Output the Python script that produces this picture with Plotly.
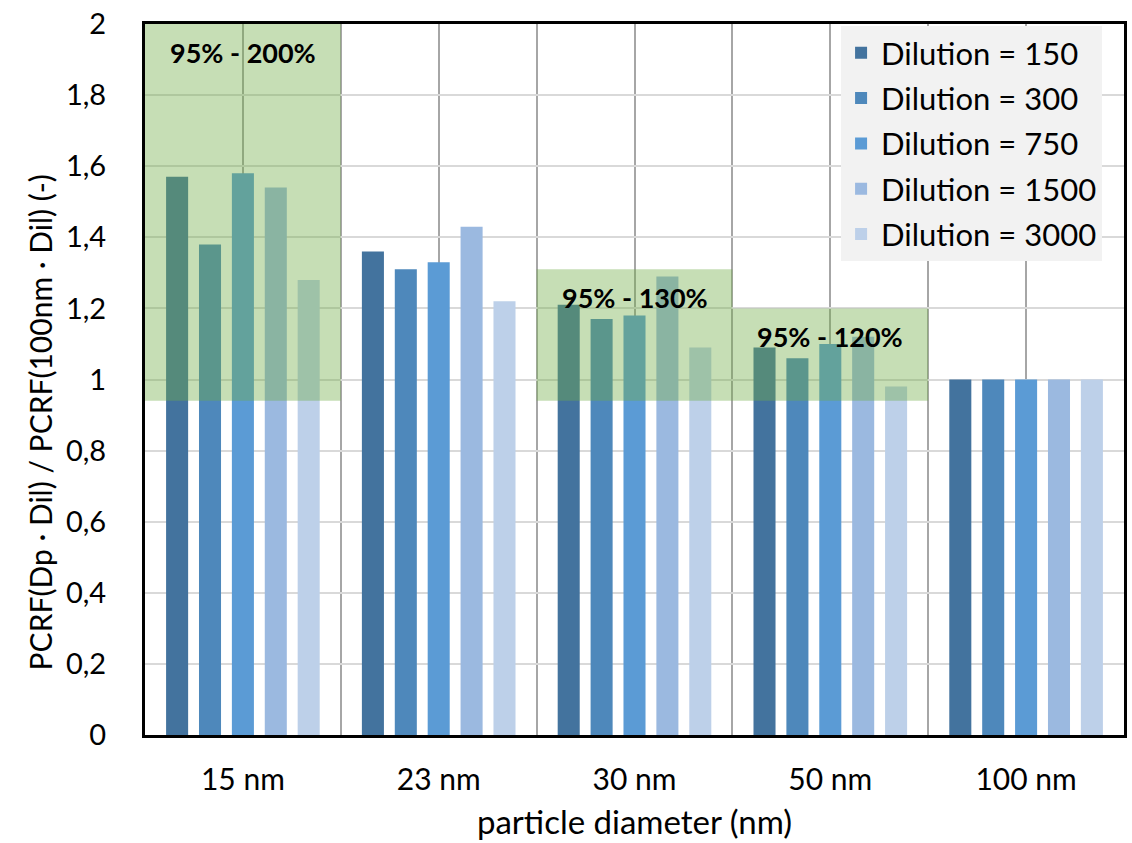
import plotly.graph_objects as go

categories = ["15 nm", "23 nm", "30 nm", "50 nm", "100 nm"]
series_names = ["Dilution = 150", "Dilution = 300", "Dilution = 750", "Dilution = 1500", "Dilution = 3000"]
dil_150 = [1.57, 1.36, 1.21, 1.09, 1.00]
dil_300 = [1.38, 1.31, 1.17, 1.06, 1.00]
dil_750 = [1.58, 1.33, 1.18, 1.10, 1.00]
dil_1500 = [1.54, 1.43, 1.29, 1.12, 1.00]
dil_3000 = [1.28, 1.22, 1.09, 0.98, 1.00]
series_values = [dil_150, dil_300, dil_750, dil_1500, dil_3000]
colors = ["#43739E", "#4E88BB", "#5B9BD5", "#9BB9E0", "#BDD0E9"]

# acceptance bands: category index, lower bound, upper bound, label
band_index = [0, 2, 3]
band_low = [0.94, 0.94, 0.94]
band_high = [2.0, 1.31, 1.20]
band_labels = ["95% - 200%", "95% - 130%", "95% - 120%"]
label_y = [1.92, 1.23, 1.12]

y_title = "PCRF(Dp · Dil) / PCRF(100nm · Dil) (-)"

xs = list(range(len(categories)))

fig = go.Figure()
for k, (name, vals, c) in enumerate(zip(series_names, series_values, colors)):
    fig.add_trace(go.Bar(x=xs, y=vals, name=name, legendgroup="g%d" % k,
                         marker=dict(color=c, line=dict(width=0))))

for i, lo, hi, lab, ly in zip(band_index, band_low, band_high, band_labels, label_y):
    fig.add_shape(type="rect", xref="x", yref="y", x0=i - 0.5, x1=i + 0.5, y0=lo, y1=hi,
                  fillcolor="rgba(112,173,71,0.4)", line=dict(width=0), layer="above")
    fig.add_annotation(x=i, y=ly, xref="x", yref="y", text="<b>" + lab + "</b>", showarrow=False,
                       font=dict(family="Lato", size=27, color="black"))

# y-axis title (placed as rotated text, slightly above the axis centre as in the original)
fig.add_annotation(x=-0.107, y=0.44, xref="paper", yref="paper", text=y_title, textangle=-90,
                   showarrow=False, xanchor="center", yanchor="middle",
                   font=dict(family="Lato", size=30, color="black"))

fig.update_layout(
    width=1132, height=843,
    margin=dict(l=145, r=5, t=19, b=108),
    paper_bgcolor="white", plot_bgcolor="white",
    barmode="group", bargap=0.16, bargroupgap=0.33,
    separators=",.",
    font=dict(family="Lato", size=29, color="black"),
    showlegend=True,
    legend=dict(x=0.711, y=0.997, xanchor="left", yanchor="top",
                bgcolor="#F2F2F2", font=dict(family="Lato", size=31, color="black"),
                tracegroupgap=2, itemwidth=30),
)
fig.update_xaxes(
    range=[-0.5, 4.5], tickmode="array", tickvals=xs, ticktext=categories,
    showgrid=True, gridcolor="#A6A6A6", gridwidth=2,
    minor=dict(dtick=0.5, tick0=-0.5, showgrid=True, gridcolor="#A6A6A6", gridwidth=2),
    showline=True, linecolor="black", linewidth=3, mirror=True, ticks="", zeroline=False,
    ticklabelstandoff=16,
    title=dict(text="particle diameter (nm)", font=dict(size=33), standoff=16),
    tickfont=dict(size=30),
)
fig.update_yaxes(
    range=[0, 2], dtick=0.2, showgrid=True, gridcolor="#D9D9D9", gridwidth=2,
    showline=True, linecolor="black", linewidth=3, mirror=True, ticks="", zeroline=False,
    ticklabelstandoff=30,
    tickfont=dict(size=29),
)

fig.write_html("out.html")
